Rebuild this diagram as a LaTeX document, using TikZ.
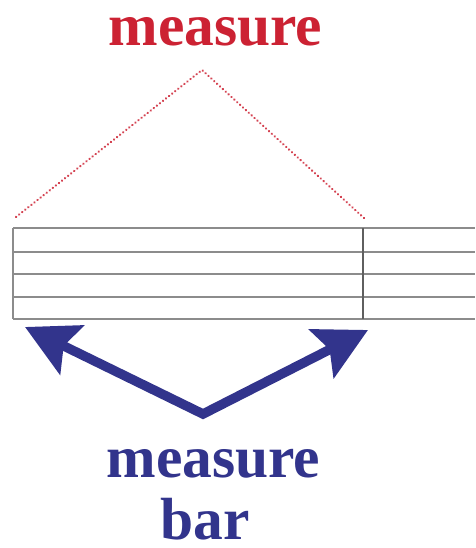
\documentclass[tikz,border=0pt]{standalone}
\usepackage{fontspec}
\setmainfont{Liberation Serif}
\usetikzlibrary{arrows.meta}
\definecolor{mred}{RGB}{204,34,51}
\definecolor{mblue}{RGB}{50,52,140}
\definecolor{staffgray}{RGB}{140,140,140}
\definecolor{bargray}{RGB}{95,95,95}
\tikzset{
  label text/.style={font=\fontsize{59.5}{70}\selectfont\bfseries, inner sep=0pt, anchor=base},
  staffline/.style={draw=staffgray, line width=1.6pt},
  barline/.style={draw=bargray, line width=1.8pt},
  dotline/.style={draw=mred!85, line width=2.3pt, line cap=round, dash pattern=on 0.3pt off 3.6pt},
  bigarrow/.style={draw=mblue, line width=9.5pt, line join=miter,
    {Stealth[length=52pt,width=54pt,inset=9pt]}-{Stealth[length=52pt,width=54pt,inset=9pt]}}
}
\begin{document}
\begin{tikzpicture}[x=1pt,y=-1pt]
\useasboundingbox (0,0) rectangle (475,548);
% staff
\foreach \y in {228,252,274,297,319} \draw[staffline] (13,\y) -- (475,\y);
\draw[staffline] (13,228) -- (13,319);
\draw[barline] (363,228) -- (363,319);
% red label and dotted bracket
\node[label text, text=mred] (mtop) at (215.5,46) {measure};
\coordinate (rl) at (16,217);
\coordinate (ra) at (202,70);
\coordinate (rr) at (364,218);
\draw[dotline] (rl) -- (ra) -- (rr);
% blue arrows
\coordinate (bl) at (25,327);
\coordinate (ba) at (203,414);
\coordinate (br) at (368,330);
\draw[bigarrow] (bl) -- (ba) -- (br);
\node[label text, text=mblue] (mbot) at (213.5,477) {measure};
\node[label text, text=mblue] (mbar) at (205,539) {bar};
\end{tikzpicture}
\end{document}
